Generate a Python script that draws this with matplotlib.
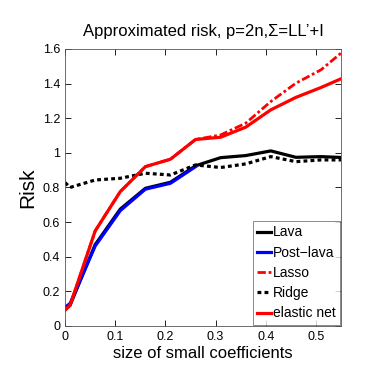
import numpy as np
import matplotlib.pyplot as plt

plt.rcParams['font.family'] = ['Liberation Sans', 'DejaVu Sans']

# data
x = [0, 0.01, 0.06, 0.11, 0.16, 0.21, 0.26, 0.31, 0.36, 0.41, 0.46, 0.51, 0.56]
lava = [0.095, 0.12, 0.47, 0.675, 0.795, 0.83, 0.925, 0.972, 0.984, 1.011, 0.974, 0.978, 0.972]
post_lava = [0.108, 0.13, 0.462, 0.666, 0.79, 0.824, 0.92,
             np.nan, np.nan, np.nan, np.nan, np.nan, np.nan]
lasso = [0.092, 0.12, 0.549, 0.776, 0.92, 0.963, 1.077, 1.103, 1.171, 1.296, 1.402, 1.479, 1.6]
ridge = [0.828, 0.80, 0.843, 0.853, 0.882, 0.872, 0.93, 0.915, 0.936, 0.978, 0.949, 0.959, 0.959]
enet = [0.092, 0.12, 0.549, 0.776, 0.92, 0.963, 1.077, 1.09, 1.148, 1.248, 1.32, 1.377, 1.44]

fig = plt.figure(figsize=(3.92, 3.82), dpi=100)
ax = fig.add_axes([0.166, 0.1466, 0.704, 0.7254])

ax.plot(x, lava, color='black', lw=2.3, label='Lava')
ax.plot(x, post_lava, color='blue', lw=2.3, label='Post\u2212lava')
ax.plot(x, lasso, color='red', lw=2.0, ls=(0, (3, 1, 1, 1)), label='Lasso')
ax.plot(x, ridge, color='black', lw=2.3, ls=(0, (1.2, 1)), label='Ridge')
ax.plot(x, enet, color='red', lw=2.3, label='elastic net')

ax.set_xlim(0, 0.55)
ax.set_ylim(0, 1.6)
ax.set_xticks([0, 0.1, 0.2, 0.3, 0.4, 0.5])
ax.set_xticklabels(['0', '0.1', '0.2', '0.3', '0.4', '0.5'])
ax.set_yticks([0, 0.2, 0.4, 0.6, 0.8, 1.0, 1.2, 1.4, 1.6])
ax.set_yticklabels(['0', '0.2', '0.4', '0.6', '0.8', '1', '1.2', '1.4', '1.6'])
ax.tick_params(direction='in', top=True, right=True, labelsize=9, length=4, width=0.6)
for s in ax.spines.values():
    s.set_linewidth(0.6)
    s.set_color('#555555')

ax.set_title('Approximated risk, p=2n,\u03a3=LL\u2019+I', fontsize=12, pad=9)
ax.set_xlabel('size of small coefficients', fontsize=12, labelpad=2)
ax.set_ylabel('Risk', fontsize=15, labelpad=4)

leg = ax.legend(loc='lower right', fontsize=10, handlelength=1.0, handletextpad=0.1,
                borderpad=0.3, labelspacing=0.45, borderaxespad=0.1, fancybox=False)
leg.get_frame().set_edgecolor('#555555')
leg.get_frame().set_linewidth(0.6)

fig.savefig('out.png', dpi=100)
